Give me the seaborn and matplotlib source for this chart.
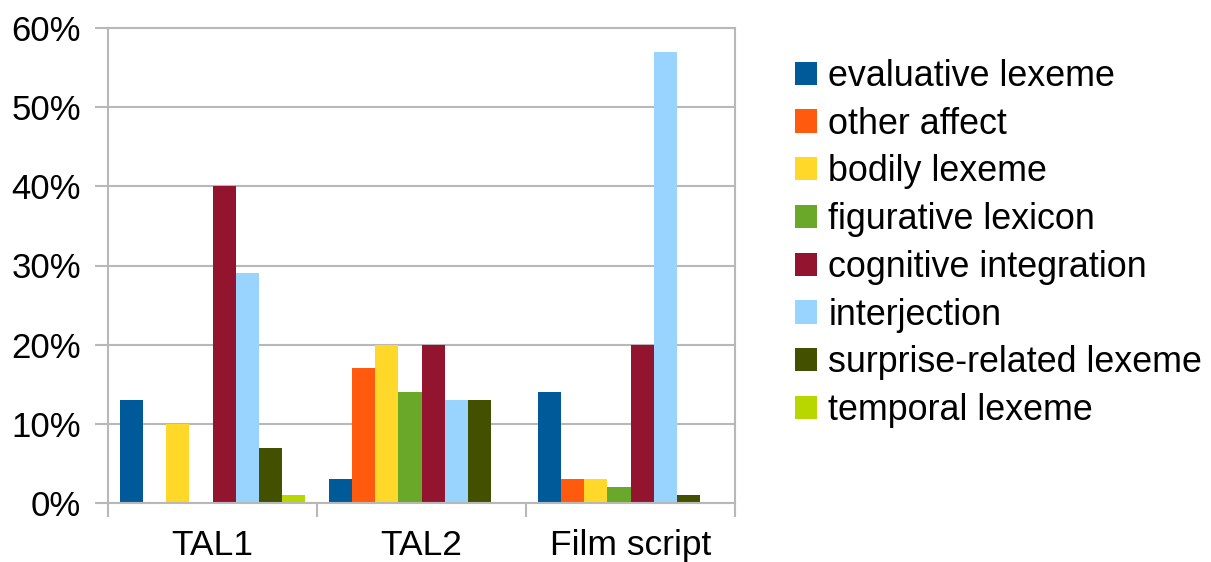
import matplotlib
matplotlib.use("Agg")
import matplotlib.pyplot as plt
import seaborn as sns
import pandas as pd
from matplotlib.patches import Patch
from matplotlib.ticker import FuncFormatter

groups = ["TAL1", "TAL2", "Film script"]
series = ["evaluative lexeme", "other affect", "bodily lexeme", "figurative lexicon",
          "cognitive integration", "interjection", "surprise-related lexeme", "temporal lexeme"]
evaluative = [13, 3, 14]
other_affect = [0, 17, 3]
bodily = [10, 20, 3]
figurative = [0, 14, 2]
cognitive = [40, 20, 20]
interjection = [29, 13, 57]
surprise = [7, 13, 1]
temporal = [1, 0, 0]
colors = ["#005a9a", "#ff5a0e", "#ffd82a", "#69a829", "#92142e", "#99d4ff", "#435000", "#b8d600"]

values = [evaluative, other_affect, bodily, figurative, cognitive, interjection, surprise, temporal]
rows = []
for s, vals in zip(series, values):
    for g, v in zip(groups, vals):
        rows.append({"group": g, "series": s, "value": v})
df = pd.DataFrame(rows)

sns.set_style("white")
plt.rcParams["font.family"] = ["Liberation Sans", "DejaVu Sans"]
plt.rcParams["text.color"] = "black"

fig = plt.figure(figsize=(12.11, 5.62), dpi=100)
ax = fig.add_axes([108 / 1211, 1 - 503 / 562, (735 - 108) / 1211, (503 - 28) / 562])

sns.barplot(data=df, x="group", y="value", hue="series", order=groups, hue_order=series,
            palette=colors, width=0.885, gap=0, saturation=1, legend=False, ax=ax,
            linewidth=0, edgecolor="none")

gridc = "#b8b8b8"
ax.set_ylim(0, 60)
ax.set_xlim(-0.5, 2.5)
ax.set_yticks(range(0, 61, 10))
ax.yaxis.set_major_formatter(FuncFormatter(lambda v, p: f"{int(v)}%"))
ax.yaxis.grid(True, color=gridc, linewidth=1.5)
ax.set_axisbelow(True)
for sp in ax.spines.values():
    sp.set_visible(True)
    sp.set_color(gridc)
    sp.set_linewidth(1.5)
ax.set_xlabel("")
ax.set_ylabel("")
ax.tick_params(axis="y", length=9.5, width=1.5, color=gridc, pad=10, labelsize=25, labelcolor="black", left=True)
ax.set_xticks([-0.5, 0.5, 1.5, 2.5], minor=True)
ax.tick_params(axis="x", which="minor", length=10, width=1.5, color=gridc, bottom=True)
ax.tick_params(axis="x", which="major", length=0, pad=19, labelsize=25.5, labelcolor="black")

handles = [Patch(facecolor=c, edgecolor="none") for c in colors]
fig.legend(handles, series, loc="upper left", bbox_to_anchor=(795 / 1211, 1 - 59 / 562),
           frameon=False, fontsize=25.8, handlelength=0.62, handleheight=0.62,
           handletextpad=0.31, labelspacing=0.355, borderpad=0, borderaxespad=0,
           labelcolor="black")

fig.savefig("out.png", dpi=100)
